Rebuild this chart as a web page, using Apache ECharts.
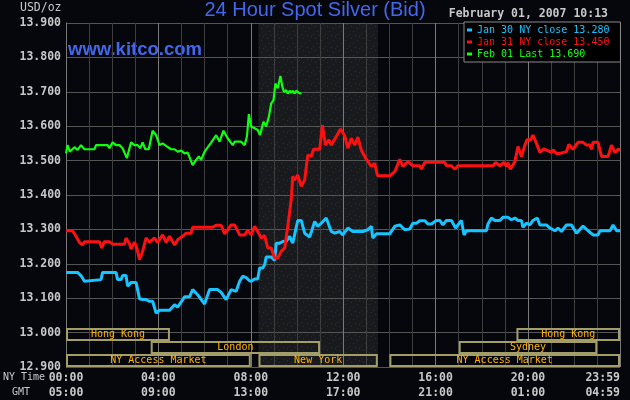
<!DOCTYPE html>
<html><head><meta charset="utf-8">
<script src="https://cdn.jsdelivr.net/npm/echarts/dist/echarts.min.js"></script>
<style>html,body{margin:0;padding:0;background:#05070d;}#c{width:630px;height:400px;}</style>
</head><body><div id="c"></div>
<script>
// minutes after 00:00 NY time
const blueT = [0,30,40,48,52,91,95,130,134,143,147,156,160,169,182,191,199,208,217,225,234,243,269,282,290,308,321,329,342,360,373,394,403,416,429,442,451,459,468,475,481,490,498,503,511,516,520,533,542,546,555,563,572,581,589,602,611,620,633,646,654,663,676,689,698,711,719,732,745,771,784,793,797,806,841,854,867,880,893,901,910,919,932,940,949,962,971,979,988,1001,1012,1027,1034,1040,1092,1096,1105,1114,1127,1135,1148,1157,1166,1174,1183,1187,1196,1205,1213,1224,1231,1248,1257,1270,1278,1287,1300,1313,1326,1343,1356,1369,1382,1387,1413,1421,1430,1439];
const blueV = [13.175,13.175,13.164,13.149,13.154,13.154,13.175,13.175,13.154,13.154,13.166,13.166,13.135,13.146,13.146,13.098,13.096,13.096,13.091,13.091,13.057,13.065,13.065,13.081,13.074,13.104,13.104,13.125,13.110,13.083,13.125,13.125,13.117,13.096,13.125,13.120,13.149,13.164,13.160,13.152,13.149,13.156,13.156,13.188,13.188,13.197,13.220,13.220,13.210,13.260,13.260,13.265,13.265,13.280,13.260,13.326,13.326,13.289,13.278,13.323,13.309,13.318,13.333,13.294,13.289,13.294,13.284,13.304,13.294,13.294,13.299,13.309,13.275,13.287,13.287,13.309,13.313,13.299,13.301,13.318,13.318,13.325,13.325,13.316,13.316,13.326,13.326,13.313,13.326,13.326,13.304,13.326,13.284,13.296,13.296,13.316,13.333,13.326,13.326,13.335,13.335,13.328,13.333,13.326,13.326,13.306,13.318,13.313,13.326,13.333,13.313,13.313,13.304,13.296,13.304,13.294,13.313,13.313,13.289,13.310,13.296,13.284,13.284,13.296,13.296,13.313,13.296,13.296];
const redT = [0,17,26,35,43,48,87,93,99,113,121,152,156,165,169,178,184,191,199,208,217,230,238,251,260,269,282,290,303,312,325,329,381,390,403,412,420,429,438,451,464,472,481,490,498,507,516,524,533,542,550,559,568,576,585,589,594,602,611,620,628,637,643,659,666,674,683,689,702,713,724,732,741,750,758,767,780,793,802,809,841,854,867,875,888,901,919,923,932,984,988,1001,1010,1018,1109,1116,1127,1137,1144,1148,1154,1166,1174,1183,1192,1198,1205,1213,1222,1231,1241,1261,1265,1274,1283,1287,1300,1306,1317,1330,1343,1352,1361,1365,1369,1382,1391,1408,1417,1426,1434,1439];
const redV = [13.296,13.296,13.280,13.262,13.255,13.264,13.264,13.246,13.264,13.264,13.257,13.257,13.275,13.258,13.243,13.263,13.246,13.212,13.236,13.275,13.263,13.275,13.262,13.284,13.262,13.280,13.255,13.270,13.280,13.289,13.289,13.306,13.306,13.312,13.312,13.287,13.299,13.313,13.313,13.284,13.284,13.297,13.284,13.309,13.294,13.275,13.282,13.246,13.246,13.217,13.217,13.236,13.246,13.309,13.386,13.454,13.444,13.458,13.425,13.444,13.516,13.512,13.533,13.533,13.603,13.545,13.560,13.545,13.570,13.592,13.572,13.536,13.565,13.545,13.568,13.531,13.504,13.483,13.492,13.456,13.456,13.468,13.504,13.483,13.497,13.485,13.485,13.475,13.495,13.495,13.485,13.485,13.475,13.485,13.485,13.495,13.485,13.495,13.483,13.494,13.475,13.497,13.541,13.512,13.545,13.562,13.558,13.574,13.550,13.524,13.534,13.524,13.531,13.521,13.521,13.526,13.526,13.547,13.533,13.553,13.553,13.545,13.545,13.533,13.553,13.553,13.512,13.512,13.545,13.523,13.533,13.531];
const greenT = [0,4,10,22,26,30,39,48,74,78,108,113,121,130,139,147,158,169,178,186,193,199,206,215,225,234,243,251,260,264,273,282,290,299,308,316,329,338,345,351,360,377,390,399,409,420,433,438,455,464,470,475,481,490,498,504,513,520,527,533,539,544,550,557,562,566,572,576,581,585,589,594,598,603,608,611];
const greenV = [13.521,13.545,13.526,13.539,13.543,13.531,13.545,13.533,13.533,13.545,13.545,13.536,13.553,13.545,13.545,13.536,13.507,13.553,13.545,13.545,13.536,13.553,13.533,13.533,13.587,13.574,13.545,13.550,13.543,13.543,13.533,13.533,13.526,13.529,13.521,13.523,13.487,13.502,13.512,13.502,13.526,13.552,13.574,13.555,13.587,13.565,13.545,13.555,13.555,13.545,13.570,13.635,13.599,13.594,13.589,13.574,13.613,13.599,13.628,13.666,13.676,13.724,13.710,13.746,13.715,13.700,13.705,13.695,13.703,13.697,13.703,13.695,13.703,13.699,13.695,13.697];

const seriesNames = ['Jan 30 NY close 13.280','Jan 31 NY close 13.450','Feb 01 Last 13.690'];
const seriesColors = ['#18c4ff','#ff1010','#10ff10'];

const sessionNames = ['Hong Kong','London','NY Access Market','New York','NY Access Market','Sydney','Hong Kong'];
const sessionStart = [0,220,0,500,840,1020,1170];
const sessionEnd   = [270,660,480,810,1439,1380,1439];
const sessionRow   = [0,1,2,2,2,1,0];

const comexStart = 500, comexEnd = 810;

const yMin = 12.9, yMax = 13.9, yStep = 0.1;
const xMin = 0, xMax = 1439, xStep = 240;

function hhmm(m){ m = ((m % 1440) + 1440) % 1440; const h = Math.floor(m/60), mm = m%60; return (h<10?'0':'')+h+':'+(mm<10?'0':'')+mm; }
function pairs(t, v){ return t.map((x,i)=>[x, v[i]]); }

// dotted pattern for the COMEX shaded region
const pc = document.createElement('canvas'); pc.width = 12; pc.height = 12;
const g = pc.getContext('2d');
g.fillStyle = 'rgba(50,50,52,0.45)'; g.fillRect(0,0,12,12);
g.fillStyle = 'rgba(40,60,150,0.55)';
[[1,10],[5,7],[9,4],[3,2],[11,0],[7,11]].forEach(p=>g.fillRect(p[0],p[1],1,1));

const mono = '"DejaVu Sans Mono", monospace';
const chart = echarts.init(document.getElementById('c'), null, {renderer:'canvas'});
chart.setOption({
  backgroundColor: '#05070d',
  animation: false,
  title: { text: '24 Hour Spot Silver (Bid)', left: 'center', top: 0, padding: 0,
    textStyle: { color: '#4468ec', fontFamily: '"Liberation Sans", Arial, sans-serif', fontSize: 20, fontWeight: 'normal' } },
  grid: { left: 66, right: 10, top: 23, bottom: 33, containLabel: false, outerBoundsMode: 'none' },
  legend: {
    orient: 'vertical', left: 464, top: 22, padding: [2, 11, 2, 3], itemGap: 0,
    itemWidth: 5, itemHeight: 3, icon: 'rect',
    backgroundColor: '#000', borderColor: '#8a8a8a', borderWidth: 1,
    textStyle: { fontFamily: mono, fontSize: 10, lineHeight: 12 },
    data: seriesNames.map((n,i)=>({ name: n, textStyle: { color: seriesColors[i] } }))
  },
  xAxis: [
    { type: 'value', min: xMin, max: xMax, interval: xStep, position: 'bottom',
      axisLine: { show: false }, axisTick: { show: false },
      axisLabel: { color: '#c8c8c8', fontFamily: mono, fontSize: 11.5, fontWeight: 'bold', margin: 5,
        formatter: v => hhmm(v), alignMaxLabel: 'right', showMaxLabel: true, showMinLabel: true },
      splitLine: { show: true, lineStyle: { color: '#7a7a7a', width: 1 } },
      minorTick: { show: false, splitNumber: 4 },
      minorSplitLine: { show: true, lineStyle: { color: '#3e3e3e', width: 1 } } },
    { type: 'value', min: xMin, max: xMax, interval: xStep, position: 'bottom', offset: 15,
      axisLine: { show: false }, axisTick: { show: false }, splitLine: { show: false },
      axisLabel: { color: '#c8c8c8', fontFamily: mono, fontSize: 11.5, fontWeight: 'bold', margin: 5,
        formatter: v => hhmm(v + 300), alignMaxLabel: 'right', showMaxLabel: true, showMinLabel: true } }
  ],
  yAxis: { type: 'value', min: yMin, max: yMax, interval: yStep,
    axisLine: { show: true, lineStyle: { color: '#7a7a7a' } }, axisTick: { show: false },
    axisLabel: { color: '#c8c8c8', fontFamily: mono, fontSize: 11.5, fontWeight: 'bold', margin: 5,
      formatter: v => v.toFixed(3) },
    splitLine: { show: true, lineStyle: { color: '#555555', width: 1 } } },
  graphic: [
    { type: 'text', left: 20, top: 2, style: { text: 'USD/oz', fill: '#c8c8c8', font: '11.5px ' + mono } },
    { type: 'text', left: 68, top: 40, style: { text: 'www.kitco.com', fill: '#4468ec', font: 'bold 18.5px "Liberation Sans", Arial, sans-serif' } },
    { type: 'text', right: 22, top: 8, style: { text: 'February 01, 2007 10:13', fill: '#c8c8c8', font: 'bold 11.5px ' + mono } },
    { type: 'text', left: 3, top: 372, style: { text: 'NY Time', fill: '#c8c8c8', font: '10px ' + mono } },
    { type: 'text', left: 12, top: 387, style: { text: 'GMT', fill: '#c8c8c8', font: '10px ' + mono } }
  ],
  series: [
    { type: 'custom', name: 'comex', z: -1, silent: true, data: [[comexStart, comexEnd]],
      renderItem: (params, api) => {
        const cs = params.coordSys;
        const x0 = api.coord([api.value(0), yMin])[0], x1 = api.coord([api.value(1), yMin])[0];
        return { type: 'rect', shape: { x: x0, y: cs.y, width: x1 - x0, height: cs.height },
          style: { fill: { image: pc, repeat: 'repeat' } } };
      } },
    { type: 'line', name: seriesNames[0], data: pairs(blueT, blueV), showSymbol: false, z: 3,
      lineStyle: { color: seriesColors[0], width: 3 }, itemStyle: { color: seriesColors[0] } },
    { type: 'line', name: seriesNames[1], data: pairs(redT, redV), showSymbol: false, z: 4,
      lineStyle: { color: seriesColors[1], width: 3 }, itemStyle: { color: seriesColors[1] } },
    { type: 'line', name: seriesNames[2], data: pairs(greenT, greenV), showSymbol: false, z: 5,
      lineStyle: { color: seriesColors[2], width: 2.2 }, itemStyle: { color: seriesColors[2] } },
    { type: 'custom', name: 'sessions', z: 6, silent: true,
      data: sessionStart.map((s,i)=>[s, sessionEnd[i], sessionRow[i]]),
      renderItem: (params, api) => {
        const cs = params.coordSys;
        const x0 = api.coord([api.value(0), yMin])[0], x1 = api.coord([api.value(1), yMin])[0];
        const row = api.value(2);
        const bottom = cs.y + cs.height;
        const top = bottom - 13 * (3 - row);
        return { type: 'group', children: [
          { type: 'rect', shape: { x: x0 + 1, y: top + 1, width: x1 - x0 - 2, height: 11 },
            style: { fill: null, stroke: '#a39d68', lineWidth: 2 } },
          { type: 'text', style: { text: sessionNames[params.dataIndex], x: (x0 + x1) / 2, y: top + 1.5,
            align: 'center', verticalAlign: 'top', fill: '#ffb400', font: '10px ' + mono } }
        ] };
      } }
  ]
});
</script>
</body></html>
